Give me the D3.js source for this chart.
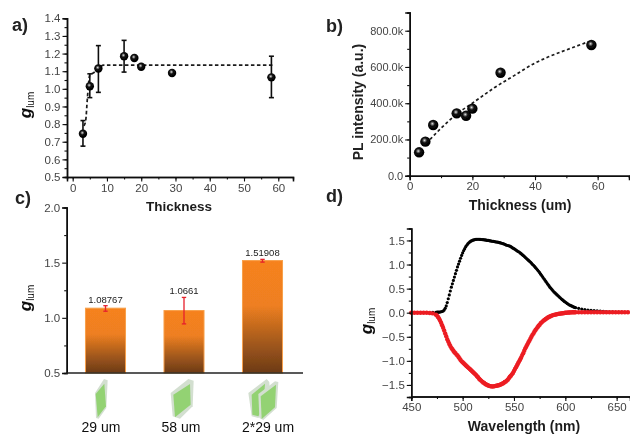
<!DOCTYPE html>
<html><head><meta charset="utf-8">
<script src="https://cdn.jsdelivr.net/npm/d3@7"></script>
<style>
html,body{margin:0;padding:0;background:#fff}
svg{display:block}
text{font-family:"Liberation Sans",Arial,sans-serif}
</style></head><body>
<svg id="c" width="630" height="435"></svg>
<script>
// Panel a
const thickness=[3,5,7.5,15,18,20,29,58];
const gValues=[0.745,1.015,1.115,1.185,1.175,1.125,1.09,1.065];
const gLow=[0.675,0.95,0.98,1.095,1.16,1.11,1.07,0.95];
const gHigh=[0.82,1.085,1.245,1.275,1.19,1.14,1.11,1.185];
const gErrShown=[1,1,1,1,0,0,0,1];
const gFitX=[3.3,3.8,4.3,5,6,7.5,9,20,42,58.5];
const gFitY=[0.79,0.82,0.95,1.08,1.09,1.115,1.135,1.135,1.135,1.135];
// Panel b
const plValues=[129,188,280,344,331,370,568,721];
const plFitX=[6.5,10,15,20,27,33.6,40,44.3,50,57];
const plFitY=[200,262,340,400,485,555,622,656,694,739];
// Panel c
const sampleNames=["29 um","58 um","2*29 um"];
const sampleValues=[1.08767,1.0661,1.51908];
const sampleLabels=["1.08767","1.0661","1.51908"];
const sampleLow=[1.06,0.945,1.505];
const sampleHigh=[1.11,1.185,1.53];
// Panel d
const waveLow=[450,453,456,459,462,465,468,471,474];
const blackLow=[0,0,0,0,0,0.002,0.004,0.006,0.008];
const redLow=[0,0,0,0,0,-0.002,-0.005,-0.015,-0.04];
const waveMid=[475,476,477,478,479,480,481,482,483,484,485,486,487,488,489,490,491,492,493,494,495,496,497,498,499,500,501,502,503,504,505,506,507,508,509,510,511,512,513,514,515,516,517,518,519,520,521,522,523,524,525,526,527,528,529,530,531,532,533,534,535,536,537,538,539,540,541,542,543,544,545,546,547,548,549,550,551,552,553,554,555,556,557,558,559,560,561,562,563,564,565,566,567,568,569,570,571,572,573,574,575,576,577,578,579,580,581,582,583,584,585,586,587,588,589,590,591,592,593,594,595,596,597,598,599,600,601,602,603,604,605,606,607,608,609,610];
const blackMid=[.01,.01,.01,.015,.02,.025,.035,.055,.09,.14,.21,.29,.37,.45,.53,.60,.67,.74,.81,.88,.95,1.01,1.07,1.13,1.19,1.24,1.29,1.33,1.37,1.40,1.43,1.45,1.47,1.485,1.495,1.505,1.51,1.52,1.522,1.525,1.525,1.525,1.522,1.52,1.518,1.515,1.512,1.51,1.505,1.50,1.50,1.495,1.49,1.487,1.483,1.48,1.476,1.472,1.468,1.464,1.46,1.454,1.448,1.442,1.436,1.43,1.42,1.41,1.40,1.395,1.39,1.38,1.37,1.355,1.34,1.33,1.315,1.30,1.285,1.27,1.26,1.24,1.225,1.205,1.19,1.17,1.15,1.13,1.11,1.09,1.07,1.05,1.03,1.005,.985,.96,.935,.91,.885,.86,.83,.80,.77,.74,.71,.68,.65,.62,.59,.56,.53,.505,.48,.455,.43,.41,.39,.37,.35,.33,.31,.29,.27,.255,.235,.22,.205,.19,.175,.16,.15,.14,.13,.12,.11,.105];
const redMid=[-.06,-.09,-.12,-.16,-.21,-.26,-.31,-.37,-.43,-.49,-.55,-.60,-.65,-.69,-.73,-.76,-.79,-.82,-.84,-.87,-.89,-.92,-.95,-.98,-1.01,-1.03,-1.05,-1.07,-1.09,-1.11,-1.13,-1.15,-1.17,-1.19,-1.21,-1.23,-1.25,-1.27,-1.29,-1.32,-1.34,-1.37,-1.39,-1.41,-1.43,-1.45,-1.46,-1.48,-1.49,-1.50,-1.51,-1.52,-1.525,-1.53,-1.53,-1.53,-1.525,-1.52,-1.515,-1.51,-1.505,-1.50,-1.49,-1.48,-1.47,-1.46,-1.44,-1.43,-1.41,-1.39,-1.36,-1.33,-1.31,-1.28,-1.25,-1.21,-1.17,-1.13,-1.09,-1.05,-1.01,-.97,-.93,-.88,-.84,-.79,-.74,-.70,-.66,-.62,-.58,-.54,-.50,-.46,-.43,-.39,-.36,-.33,-.30,-.27,-.25,-.22,-.20,-.18,-.16,-.145,-.13,-.115,-.10,-.09,-.08,-.07,-.06,-.05,-.045,-.04,-.035,-.03,-.025,-.02,-.02,-.015,-.01,-.01,-.005,0,0,.002,.004,.005,.006,.007,.008,.008,.009,.01];
const waveHigh=[613,616,619,622,625,628,631,634,637,640,643,646,649,652,655,658,661];
const blackHigh=[.09,.075,.065,.055,.05,.045,.04,.035,.03,.025,.02,.018,.015,.012,.01,.008,.005];
const redHigh=[.01,.01,.01,.01,.01,.01,.01,.01,.01,.01,.01,.01,.01,.01,.01,.01,.01];
const iconFaces=[
 [[[285,525],[312,483],[323,487],[319,570],[296,602],[288,600]],[[287,528],[313,497],[318,565],[293,598]]],
 [[[512,525],[565,483],[581,488],[578,565],[540,602],[518,595]],[[520,530],[570,498],[572,560],[525,598]]],
 [[[745,525],[800,483],[808,492],[812,560],[775,600],[755,595]],[[755,530],[795,497],[790,570],[775,595],[757,590]],[[775,528],[825,490],[835,492],[830,570],[790,606],[778,600]],[[782,535],[828,500],[825,568],[785,603]]]
];

const svg=d3.select("#c");
const defs=svg.append("defs");
const soft=defs.append("filter").attr("id","soft").attr("x","-5%").attr("y","-5%").attr("width","110%").attr("height","110%");
soft.append("feGaussianBlur").attr("stdDeviation",0.4);
const sg=defs.append("radialGradient").attr("id","sphere").attr("cx","0.42").attr("cy","0.38").attr("r","0.62");
[[0,"#e8e8e8"],[0.18,"#777"],[0.4,"#0c0c0c"],[1,"#000"]].forEach(s=>sg.append("stop").attr("offset",s[0]).attr("stop-color",s[1]));
const bg=defs.append("linearGradient").attr("id","bar").attr("x1",0).attr("y1",0).attr("x2",0).attr("y2",1);
[[0,"#f6821f"],[0.4,"#ee7f20"],[0.72,"#a55a1e"],[1,"#6c3a15"]].forEach(s=>bg.append("stop").attr("offset",s[0]).attr("stop-color",s[1]));

const root=svg.append("g").attr("filter","url(#soft)");
const TICK="#444";

function axisPair(g,scale,orient,major,minor,fmt,len){
  const mk=orient==="left"?d3.axisLeft:d3.axisBottom;
  g.append("g").call(mk(scale).tickValues(minor).tickSize(2.5).tickFormat("")).call(styleAxis);
  const a=g.append("g").call(mk(scale).tickValues(major).tickSize(len||4.5).tickPadding(2).tickFormat(fmt)).call(styleAxis);
  a.selectAll("text").attr("font-size",11.5).attr("fill",TICK).attr("font-family",'"Liberation Sans",Arial,sans-serif');
  return a;
}
function styleAxis(s){
  s.select(".domain").attr("stroke","#111").attr("stroke-width",1.5);
  s.selectAll(".tick line").attr("stroke","#111").attr("stroke-width",1.1);
}
function glum(x,y){
  const t=root.append("text").attr("transform",`translate(${x},${y}) rotate(-90)`).attr("text-anchor","middle").attr("font-weight","bold").attr("fill","#111");
  t.append("tspan").attr("font-style","italic").attr("font-size",17).text("g");
  t.append("tspan").attr("font-size",10).attr("dy",3).attr("font-weight","normal").text("lum");
}
function title(x,y,s,size){root.append("text").attr("x",x).attr("y",y).attr("text-anchor","middle").attr("font-weight","bold").attr("font-size",size||14).attr("fill","#1c1c1c").text(s);}
function panel(x,y,s){root.append("text").attr("x",x).attr("y",y).attr("font-family",'"Open Sans",sans-serif').attr("font-weight","600").attr("font-size",18).attr("fill","#222").text(s);}
function spheres(g,xs,ys,sx,sy,r){
  g.selectAll("circle.s").data(xs).join("circle").attr("class","s").attr("cx",d=>sx(d)).attr("cy",(d,i)=>sy(ys[i])).attr("r",r).attr("fill","url(#sphere)");
}
function fit(xs,ys,sx,sy,dash){
  root.append("path").attr("d",d3.line().x(d=>sx(d)).y((d,i)=>sy(ys[i])).curve(d3.curveMonotoneX)(xs)).attr("fill","none").attr("stroke","#1a1a1a").attr("stroke-width",1.7).attr("stroke-dasharray",dash);
}

// a
{
  const x=d3.scaleLinear().domain([-1.66,64.3]).range([67,293]);
  const y=d3.scaleLinear().domain([0.5,1.4]).range([177,18.3]);
  axisPair(root.append("g").attr("transform","translate(0,177)"),x,"bottom",d3.range(0,61,10),d3.range(0,65,5),d3.format("d"));
  axisPair(root.append("g").attr("transform","translate(67,0)"),y,"left",d3.range(5,15).map(d=>d/10),d3.range(10,29).map(d=>d/20),d3.format(".1f"));
  fit(gFitX,gFitY,x,y,"3.5 2.5");
  const e=root.append("g").attr("stroke","#111").attr("stroke-width",1.6);
  thickness.forEach((t,i)=>{ if(!gErrShown[i])return;
    e.append("line").attr("x1",x(t)).attr("x2",x(t)).attr("y1",y(gLow[i])).attr("y2",y(gHigh[i]));
    [gLow[i],gHigh[i]].forEach(v=>e.append("line").attr("x1",x(t)-2.5).attr("x2",x(t)+2.5).attr("y1",y(v)).attr("y2",y(v)));
  });
  spheres(root.append("g"),thickness,gValues,x,y,4.2);
  glum(31,105);
  title(179,211,"Thickness",13.5);
  panel(12,31,"a)");
}
// b
{
  const x=d3.scaleLinear().domain([0,70]).range([409.7,629]);
  const y=d3.scaleLinear().domain([0,900]).range([175.7,12.6]);
  axisPair(root.append("g").attr("transform","translate(0,175.7)"),x,"bottom",[0,20,40,60],d3.range(0,71,10),d3.format("d"));
  axisPair(root.append("g").attr("transform","translate(409.7,0)"),y,"left",[0,200,400,600,800],d3.range(0,901,100),d=>d===0?"0.0":d.toFixed(1)+"k").selectAll("text").attr("font-size",11);
  fit(plFitX,plFitY,x,y,"3 2.5");
  spheres(root.append("g"),thickness,plValues,x,y,5.2);
  root.append("text").attr("transform","translate(363,102) rotate(-90)").attr("text-anchor","middle").attr("font-weight","bold").attr("font-size",14).attr("fill","#222").text("PL intensity (a.u.)");
  title(520,210,"Thickness (um)",14);
  panel(326,32,"b)");
}
// c
{
  const x=d3.scaleBand().domain(sampleNames).range([66.25,301.75]).paddingInner(0.49).paddingOuter(0.245);
  const y=d3.scaleLinear().domain([0.5,2]).range([373,207.5]);
  const ya=axisPair(root.append("g").attr("transform","translate(66.7,0)"),y,"left",[0.5,1,1.5,2],[0.75,1.25,1.75],d3.format(".1f"));
  ya.selectAll("text").attr("font-size",11.5);
  root.selectAll("rect.b").data(sampleNames).join("rect").attr("class","b")
    .attr("x",d=>x(d)).attr("width",x.bandwidth())
    .attr("y",(d,i)=>y(sampleValues[i])).attr("height",(d,i)=>y(0.5)-y(sampleValues[i]))
    .attr("fill","url(#bar)").attr("stroke","#f8a04a").attr("stroke-width",1);
  root.append("line").attr("x1",66).attr("x2",303).attr("y1",373).attr("y2",373).attr("stroke","#222").attr("stroke-width",1.5);
  const e=root.append("g").attr("stroke","#e6202c").attr("stroke-width",1.3);
  sampleNames.forEach((n,i)=>{const c=x(n)+x.bandwidth()/2;
    e.append("line").attr("x1",c).attr("x2",c).attr("y1",y(sampleLow[i])).attr("y2",y(sampleHigh[i]));
    [sampleLow[i],sampleHigh[i]].forEach(v=>e.append("line").attr("x1",c-2.2).attr("x2",c+2.2).attr("y1",y(v)).attr("y2",y(v)));
    const lab=Math.max(sampleValues[i],sampleHigh[i]);
    root.append("text").attr("x",c).attr("y",y(lab)-3).attr("text-anchor","middle").attr("font-size",9.5).attr("fill","#222").text(sampleLabels[i]);
  });
  // cuvette icons
  iconFaces.forEach(ic=>ic.forEach((p,j)=>{
    root.append("polygon").attr("points",p.map(q=>[q[0]/3,218+q[1]/3].join(",")).join(" ")).attr("fill",j%2?"#93d273":"#d3dfd0");
  }));
  [[101,"29 um"],[181,"58 um"],[268,"2*29 um"]].forEach((d,i)=>root.append("text").attr("x",d[0]).attr("y",432).attr("text-anchor","middle").attr("font-size",14).attr("fill","#111").text(sampleNames[i]));
  glum(31,298);
  panel(15,204,"c)");
}
// d
{
  const x=d3.scaleLinear().domain([450,663]).range([411.3,630]);
  const y=d3.scaleLinear().domain([-1.75,1.75]).range([397,228.4]);
  const wave=waveLow.concat(waveMid,waveHigh);
  const black=blackLow.concat(blackMid,blackHigh);
  const red=redLow.concat(redMid,redHigh);
  root.append("g").selectAll("circle").data(wave).join("circle").attr("cx",d=>x(d)).attr("cy",(d,i)=>y(black[i])).attr("r",1.6).attr("fill","#000");
  root.append("g").selectAll("circle").data(wave).join("circle").attr("cx",d=>x(d)).attr("cy",(d,i)=>y(red[i])).attr("r",2.2).attr("fill","#ec1c24");
  axisPair(root.append("g").attr("transform","translate(0,396.5)"),x,"bottom",[450,500,550,600,650],d3.range(450,664,25),d3.format("d"));
  axisPair(root.append("g").attr("transform","translate(411.3,0)"),y,"left",[-1.5,-1,-0.5,0,0.5,1,1.5],d3.range(-1.75,1.76,0.25),d3.format(".1f"));
  glum(372,321);
  title(524,431,"Wavelength (nm)",14);
  panel(326,202,"d)");
}
</script>
</body></html>
